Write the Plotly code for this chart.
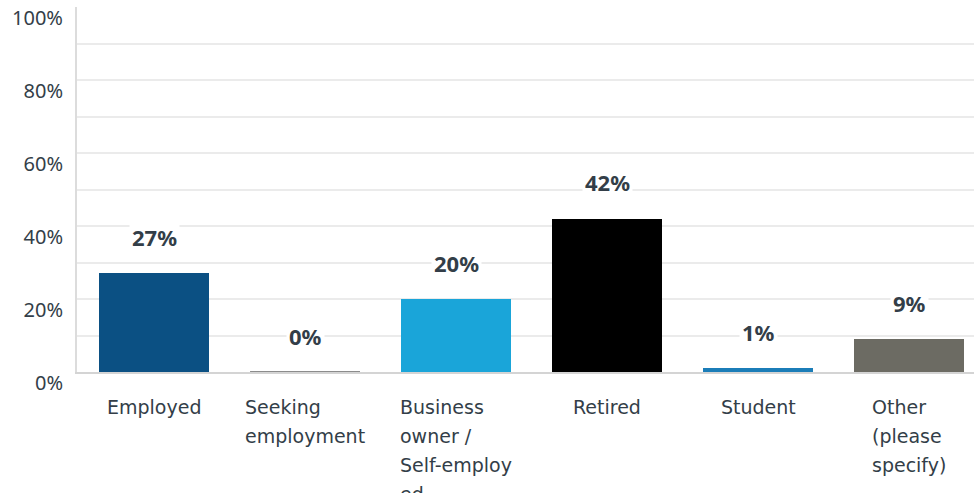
import plotly.graph_objects as go

# Survey answers: employment status
categories = ["Employed", "Seeking employment", "Business owner / Self-employed",
              "Retired", "Student", "Other (please specify)"]
# wrapped category labels as drawn under each bar
tick_lines = [["Employed"], ["Seeking", "employment"], ["Business", "owner /", "Self-employ", "ed"],
              ["Retired"], ["Student"], ["Other", "(please", "specify)"]]
values = [27, 0, 20, 42, 1, 9]
colors = ["#0b5083", "#8c8c8c", "#1aa5d9", "#000000", "#1b7db8", "#6c6b63"]
y_ticks = [0, 20, 40, 60, 80, 100]

BAR_W = 0.728
TEXT = "#333e48"
FONT = "Noto Sans"
CAT_FONT = "DejaVu Sans"

xs = list(range(len(categories)))

fig = go.Figure()
fig.add_trace(go.Bar(
    x=xs, y=values, width=BAR_W,
    marker=dict(color=colors, line=dict(width=0)),
    hoverinfo="skip", showlegend=False,
))

# zero-height answers are shown as a thin rule on the baseline
for i, v in enumerate(values):
    if v == 0:
        fig.add_shape(type="line", xref="x", yref="y",
                      x0=i - BAR_W / 2, x1=i + BAR_W / 2, y0=v, y1=v,
                      line=dict(color=colors[i], width=2), layer="above")

# percentage labels above bars
for i, v in enumerate(values):
    fig.add_annotation(x=i, y=v, xref="x", yref="y", text=f"{v}%",
                       showarrow=False, yshift=36.5, yanchor="middle",
                       bgcolor="white", borderpad=2,
                       font=dict(family=FONT, size=22, color=TEXT, weight=700))

# category labels below the axis: block centred, lines left-aligned
for i, lines in enumerate(tick_lines):
    txt = "<br>".join(f"<span style='font-size:19px'>{ln}</span>" for ln in lines)
    fig.add_annotation(x=i, y=0, xref="x", yref="y", text=txt,
                       showarrow=False, align="left", xanchor="center",
                       yanchor="top", yshift=-22,
                       font=dict(family=CAT_FONT, size=22.4, color=TEXT))

fig.update_layout(
    width=974, height=493,
    margin=dict(l=77, r=0, t=7, b=121),
    paper_bgcolor="white", plot_bgcolor="white",
    bargap=0,
    xaxis=dict(range=[-0.51, 5.43], showticklabels=False, showgrid=False,
               zeroline=False, showline=True, linecolor="#d4d4d4", linewidth=2,
               fixedrange=True),
    yaxis=dict(range=[0, 100], tickvals=y_ticks,
               ticktext=[f"{t}%" for t in y_ticks],
               showgrid=True, gridcolor="#ebebeb", gridwidth=2,
               minor=dict(dtick=10, showgrid=True, gridcolor="#ebebeb", gridwidth=2),
               zeroline=False, showline=True, linecolor="#dcdcdc", linewidth=2,
               ticks="", ticklabelshift=11, ticklabelstandoff=8,
               tickfont=dict(family=FONT, size=20, color=TEXT),
               fixedrange=True),
)

fig.write_html("out.html")
